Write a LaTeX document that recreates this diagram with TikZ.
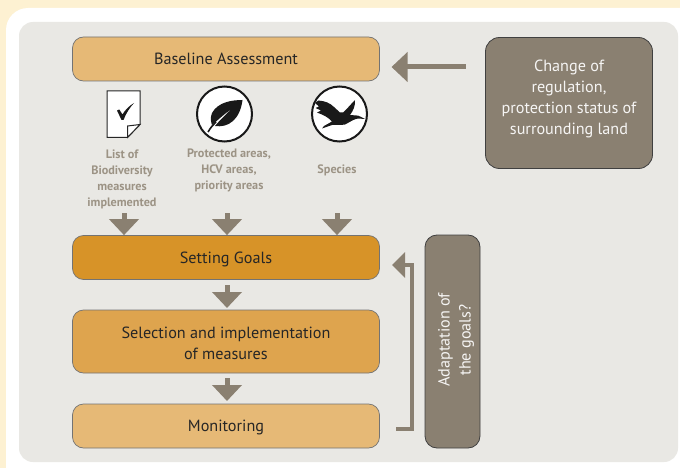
\documentclass[tikz,border=0pt]{standalone}
\usepackage{fontspec}
\setmainfont{PT Sans}
\usetikzlibrary{arrows.meta}
\definecolor{creamback}{HTML}{FDF1D2}
\definecolor{panelgrey}{HTML}{E9E8E4}
\definecolor{taupe}{HTML}{8A8071}
\definecolor{labelgrey}{HTML}{9C9385}
\definecolor{sandbox}{HTML}{E6B976}
\definecolor{midbox}{HTML}{DEA44E}
\definecolor{goalbox}{HTML}{D79328}
\tikzset{
    stagebox/.style={draw=black!55, line width=0.7pt, rounded corners=11pt, text=black!85,
        align=center, font=\fontsize{16.2}{21}\selectfont, minimum width=307pt, inner sep=0pt},
    oneline/.style={minimum height=44pt, text height=13pt, text depth=2pt},
    notebox/.style={draw=black!75, line width=0.8pt, rounded corners=14pt, fill=taupe, inner sep=0pt},
    notetext/.style={text=white!92!taupe, align=center, inner sep=0pt, font=\fontsize{16.2}{21}\selectfont},
    inputlabel/.style={text=labelgrey, align=center, inner sep=0pt,
        font=\bfseries\fontsize{12.2}{16}\selectfont},
    bigarrow/.style={draw=taupe, line width=5pt, -{Triangle[length=16pt,width=29pt]}},
    iconring/.style={draw=black!90, line width=2pt, fill=white, circle, minimum size=55pt, inner sep=0pt}
}
\begin{document}
\begin{tikzpicture}[x=1pt, y=-1pt]
    \useasboundingbox (0,0) rectangle (680,468);
    \fill[creamback] (0,0) rectangle (680,468);
    \fill[white, rounded corners=22pt] (6,8) rectangle (720,500);
    \fill[panelgrey, rounded corners=14pt] (19,22) rectangle (678,462);

    \node[stagebox, oneline, fill=sandbox] (baseline) at (226,59) {Baseline Assessment};
    \node[stagebox, oneline, fill=goalbox] (goals) at (226,257.5) {Setting Goals};
    \node[stagebox, fill=midbox, minimum height=63pt] (selection) at (226,341.5) {\rule{0pt}{15pt}Selection and implementation\\of measures};
    \node[stagebox, oneline, fill=sandbox] (monitoring) at (226,426) {Monitoring};

    \node[notebox, minimum width=167pt, minimum height=131pt] (change) at (569,103) {};
    \node[notetext] (changetext) at (569,99) {Change of\\regulation,\\protection status of\\surrounding land};
    \node[notebox, rounded corners=12pt, minimum width=55pt, minimum height=213pt] (adapt) at (452.5,341.5) {};
    \node[notetext, rotate=90] (adapttext) at (456,340) {Adaptation of\\the goals?};

    % input icons
    \draw[draw=black!85, line width=1pt, fill=white] (107,91) -- (140,91) -- (140,124.5) -- (127.5,137.5) -- (107,137.5) -- cycle;
    \draw[draw=black!85, line width=1pt, fill=white] (140,124.5) -- (127.5,137.5) -- (127.5,126) -- cycle;
    \fill[black!90] (117,110.5) -- (119.3,109.5) -- (122.5,114.5) .. controls (125,110) and (129,106) .. (134,103) .. controls (130,107.5) and (126,113) .. (123.5,120) -- (121.5,120) -- cycle;

    \node[iconring] (leaf) at (224.5,114) {};
    \fill[black!90] (242.5,100) .. controls (232,100) and (218,102) .. (212,113) .. controls (210,118) and (211,122) .. (212,125)
        .. controls (218,120) and (224,114) .. (233,108) .. controls (226,114) and (220,120) .. (215,126) .. controls (228,128) and (240,120) .. (242.5,100) -- cycle;
    \draw[black!90, line width=1.6pt] (208,132) .. controls (211,127) and (213,125) .. (216,122);

    \node[iconring] (bird) at (339.5,114) {};
    \fill[black!90] (315,103) -- (318.5,100.5) .. controls (325,101) and (330,103) .. (334,107) -- (340,112.5) -- (343,112.5)
        .. controls (348,108) and (351,104) .. (355,100) .. controls (355.5,106) and (353,111) .. (350,115)
        .. controls (354,115.5) and (358,115) .. (360,116.5) -- (365,119) -- (358,118.5) .. controls (354,119) and (350,122) .. (345,124.5)
        .. controls (340,125.5) and (336,124.5) .. (332,125) -- (322,128.5) -- (324,126) -- (332,121.5)
        .. controls (329,118) and (324,115) .. (317,112.5) -- (321,110.5) -- (315.5,108) -- (319,106.5) -- cycle;

    \node[inputlabel] (listlabel) at (122,179) {List of\\Biodiversity\\measures\\implemented};
    \node[inputlabel] (arealabel) at (229,170.5) {Protected areas,\\HCV areas,\\priority areas};
    \node[inputlabel] (specieslabel) at (337,170) {Species};

    % arrows
    \coordinate (listend) at (124,213);
    \coordinate (areaend) at (227,213);
    \coordinate (speciesend) at (337,213);
    \draw[bigarrow] (listend) -- (listend |- goals.north);
    \draw[bigarrow] (areaend) -- (areaend |- goals.north);
    \draw[bigarrow] (speciesend) -- (speciesend |- goals.north);
    \coordinate (goalsfoot) at (227,285);
    \coordinate (selectfoot) at (227,378);
    \draw[bigarrow] (goalsfoot) -- (227,308);
    \draw[bigarrow] (selectfoot) -- (227,401);
    \coordinate (changeend) at (465.5,67);
    \draw[bigarrow] (changeend) -- (391.5,67);
    \coordinate (loopstart) at (396,429);
    \coordinate (loopturn) at (412,265);
    \draw[draw=taupe, line width=3.5pt, -{Triangle[length=13pt,width=25pt]}] (loopstart) -| (loopturn) -- (392,265);
\end{tikzpicture}
\end{document}
